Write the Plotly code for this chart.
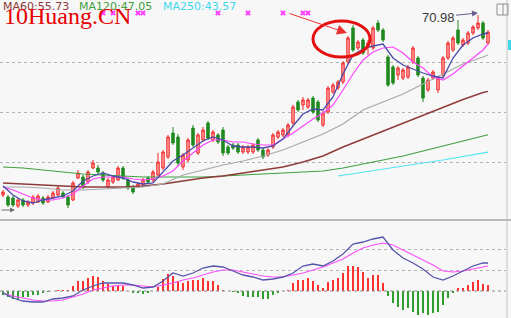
import plotly.graph_objects as go

# ---------------- data ----------------
opens = [35.0,34.6,34.4,32.8,34.0,33.0,33.4,33.6,34.4,33.6,
         34.4,35.0,35.4,34.6,34.0,38.4,38.6,37.6,40.4,40.4,
         39.4,36.6,37.6,38.0,40.4,38.0,36.6,36.6,37.0,38.4,
         38.0,39.0,40.4,42.6,47.4,46.6,40.6,42.0,48.4,43.4,
         46.0,49.4,46.0,47.0,48.0,44.6,45.0,45.0,43.6,43.6,
         43.6,46.0,44.0,43.0,44.6,46.6,47.0,47.0,49.4,53.6,
         53.0,52.6,54.4,53.6,49.0,51.6,55.6,56.4,57.6,61.6,
         68.4,64.4,66.0,64.6,64.4,69.4,68.0,62.6,60.6,59.0,
         58.4,58.6,61.6,62.4,58.4,56.0,58.4,56.0,59.0,62.4,
         64.0,68.0,65.0,65.4,67.4,68.4,69.4,65.4]
closes = [35.6,33.0,33.0,34.0,33.0,33.6,34.6,34.8,33.4,34.6,
          35.4,36.4,34.6,33.0,37.4,39.4,36.6,39.6,41.4,39.6,
          38.0,38.0,38.6,40.4,38.4,36.4,35.6,37.2,38.0,37.6,
          39.6,41.6,43.6,46.6,45.4,41.4,43.0,46.0,45.0,47.0,
          48.0,46.4,47.6,45.6,43.4,43.4,44.4,43.6,44.6,44.6,
          45.0,44.0,42.6,44.0,47.0,47.6,48.0,49.0,52.6,52.0,
          54.0,54.0,51.6,50.0,51.4,56.4,57.0,57.6,61.4,66.4,
          64.0,65.6,63.4,65.4,68.4,68.0,66.0,57.0,57.4,60.4,
          60.0,60.6,64.4,59.0,54.4,58.0,59.6,58.4,62.4,65.4,
          66.4,65.4,66.0,67.4,68.6,69.4,66.4,67.6]
highs = [36.0,35.0,34.8,34.4,34.4,34.0,35.0,35.2,34.8,35.0,
         35.8,37.0,35.8,35.0,37.8,40.0,39.0,40.0,42.0,41.0,
         39.8,38.4,39.0,40.8,40.8,38.4,37.0,37.6,38.4,38.8,
         40.0,43.4,44.0,47.0,48.6,47.2,43.4,46.4,49.0,47.4,
         48.6,49.8,48.0,47.4,48.6,45.0,45.4,45.4,45.0,45.0,
         45.4,46.4,44.4,44.4,47.4,48.0,48.4,49.4,53.0,54.0,
         54.6,54.4,54.8,54.0,51.8,56.8,57.4,58.0,61.8,66.8,
         69.0,66.0,66.4,66.0,68.8,70.0,68.4,63.0,61.0,60.8,
         60.4,61.0,64.8,62.8,58.8,58.4,60.0,58.8,62.8,65.8,
         66.8,70.0,66.4,67.8,69.0,70.98,69.8,68.0]
lows = [34.6,32.6,32.6,32.4,32.6,32.6,33.0,33.4,33.0,33.4,
        34.2,34.8,34.4,32.4,33.8,38.2,36.2,37.2,40.2,39.2,
        37.6,36.4,37.2,37.8,38.0,36.0,35.2,36.4,36.8,37.2,
        37.6,38.8,40.0,42.2,45.0,40.8,40.0,41.6,44.6,43.0,
        45.6,46.0,45.6,45.2,42.8,43.0,44.0,43.2,43.2,43.2,
        43.2,43.6,42.2,42.6,44.2,46.2,46.6,46.6,49.0,51.6,
        52.0,52.2,51.2,49.6,48.6,51.2,55.2,56.0,57.2,61.2,
        63.6,64.0,63.0,63.0,64.0,67.6,65.6,56.6,57.0,58.0,
        58.0,58.2,61.2,58.6,53.6,55.6,58.0,55.4,58.6,62.0,
        63.6,65.0,64.6,65.0,67.0,68.0,66.0,65.0]

# moving averages (read every 2nd / 4th bar)
ma_fine_idx = list(range(0, 97, 2)) + [97]
ma5 = [36.8,35.0,33.8,33.4,34.0,34.4,34.8,35.8,37.8,38.8,
       39.4,38.8,38.4,37.6,37.2,37.4,39.6,41.8,43.0,44.4,
       45.8,46.6,46.0,44.8,44.6,44.6,44.4,44.8,46.2,48.8,
       51.2,52.2,52.0,54.6,59.2,63.0,64.2,64.8,65.2,62.4,
       61.0,60.2,59.4,58.8,58.4,62.4,65.0,66.4,67.2,67.4]
ma10 = [36.6,36.0,35.2,34.4,34.0,34.0,34.4,35.2,36.8,38.2,
        38.6,38.6,38.6,38.2,38.0,38.2,38.8,39.8,41.8,43.4,
        45.0,46.0,46.0,45.6,45.6,45.2,45.0,45.0,46.2,47.4,
        48.8,50.2,51.4,53.0,56.0,59.2,62.0,63.6,64.4,64.6,
        63.4,61.6,60.4,58.6,58.0,59.2,60.8,62.4,64.0,65.2]
ma_coarse_idx = list(range(0, 97, 4)) + [97]
ma30 = [36.6,36.6,36.4,36.0,36.0,36.2,36.4,36.6,37.2,39.0,
        40.0,41.0,41.8,42.8,44.0,45.6,47.2,49.2,52.0,53.6,
        55.2,57.2,59.2,61.2,62.6,63.0]
ma60 = [37.4,37.2,37.0,36.8,36.6,36.6,36.6,36.8,37.2,37.8,
        38.4,38.8,39.4,40.0,40.6,41.6,42.8,44.6,46.2,47.8,
        49.4,51.0,52.6,54.1,55.5,55.73]
ma120 = [40.6,40.4,40.0,39.6,39.2,39.0,38.8,38.6,38.6,38.6,
         38.6,38.8,39.0,39.2,39.4,39.6,39.8,40.4,41.2,42.0,
         42.8,43.8,44.8,45.8,46.8,47.05]
ma250_idx = [67, 72, 76, 80, 84, 88, 92, 97]
ma250 = [38.8, 39.6, 40.2, 40.8, 41.4, 42.0, 42.7, 43.57]

# MACD
macd_hist = [-0.4,-0.6,-0.8,-0.8,-0.6,-0.6,-0.4,-0.4,-0.2,-0.1,
             0.0,0.1,0.1,0.1,0.5,1.0,1.0,1.3,1.5,1.4,
             1.0,0.7,0.5,0.6,0.5,0.0,-0.2,-0.2,-0.3,-0.2,
             0.0,0.4,1.2,1.7,1.5,1.0,0.8,1.0,1.1,1.1,
             1.3,1.0,1.0,0.6,0.1,0.0,-0.1,-0.2,-0.5,-0.6,
             -0.6,-0.6,-0.8,-0.8,-0.4,-0.2,0.0,0.1,0.8,1.1,
             1.1,1.3,1.0,0.6,0.3,0.9,1.1,1.3,1.8,2.5,
             2.5,2.4,1.9,1.3,1.6,1.6,0.8,-0.5,-1.2,-1.6,
             -1.9,-1.7,-2.1,-2.4,-2.2,-2.4,-2.2,-2.1,-1.4,-0.7,
             -0.2,0.3,0.3,0.6,0.9,1.1,0.7,0.6]
dif = [-0.2,-0.7,-1.0,-1.1,-1.1,-0.8,-0.7,-0.5,0.1,0.5,
       0.8,0.8,0.8,0.6,0.3,0.4,1.0,1.8,1.5,1.8,
       2.3,2.5,2.4,2.0,1.6,1.4,1.1,1.2,1.4,1.8,
       2.5,2.7,2.5,3.0,3.7,4.7,4.9,5.2,5.4,4.1,
       3.3,2.8,2.2,1.4,1.1,1.5,2.0,2.5,2.8,2.8]
dea = [-0.2,-0.5,-0.7,-0.9,-1.0,-1.0,-0.9,-0.6,-0.3,0.1,
       0.3,0.5,0.6,0.6,0.5,0.4,0.6,0.8,1.1,1.3,
       1.6,1.9,2.1,2.1,1.9,1.7,1.5,1.4,1.4,1.6,
       1.8,2.1,2.4,2.8,3.2,3.8,4.3,4.6,4.8,4.6,
       4.1,3.6,3.1,2.6,2.0,1.9,2.0,2.2,2.4,2.5]

signal_idx = [20, 22, 27, 28, 43, 49, 56, 60, 61]
signal_level = 71.4
legend_items = [("MA60:55.73", "#8E3B3B"), ("MA120:47.05", "#3E9E3E"), ("MA250:43.57", "#3FD8EA")]
high_label = "70.98"
watermark = "10Huang.CN"

# ---------------- figure ----------------
W, H = 511, 318
split = 1 - 220 / H
idx = list(range(len(opens)))

fig = go.Figure()
fig.add_trace(go.Candlestick(
    x=idx, open=opens, high=highs, low=lows, close=closes,
    increasing=dict(line=dict(color="#F02828", width=1), fillcolor="#FF9E9E"),
    decreasing=dict(line=dict(color="#1E8A1E", width=1), fillcolor="#1E8A1E"),
    whiskerwidth=0, xaxis="x", yaxis="y", hoverinfo="skip"))

def line(xs, ys, color, width, yaxis="y"):
    fig.add_trace(go.Scatter(x=xs, y=ys, mode="lines", yaxis=yaxis,
                             line=dict(color=color, width=width), hoverinfo="skip"))

line(ma_coarse_idx, ma120, "#3EA03E", 1.2)
line(ma250_idx, ma250, "#52E4F2", 1.2)
line(ma_coarse_idx, ma60, "#8E3B3B", 1.4)
line(ma_coarse_idx, ma30, "#A8A8A8", 1.2)
line(ma_fine_idx, ma10, "#FF45FF", 1.2)
line(ma_fine_idx, ma5, "#4A4AA8", 1.3)

fig.add_trace(go.Scatter(x=signal_idx, y=[signal_level] * len(signal_idx), mode="markers",
                         marker=dict(symbol="x", size=5, color="#FF40FF"), hoverinfo="skip"))

fig.add_trace(go.Bar(x=idx, y=macd_hist, yaxis="y2", width=0.38,
                     marker=dict(color=["#FF3030" if v >= 0 else "#2E9E2E" for v in macd_hist],
                                 line=dict(width=0)), hoverinfo="skip"))
line(ma_fine_idx, dea, "#FF50FF", 1.2, "y2")
line(ma_fine_idx, dif, "#5555AA", 1.3, "y2")

grid = dict(showgrid=True, griddash="dot", gridcolor="#B4B4B4", gridwidth=1,
            showticklabels=False, ticks="", zeroline=False, showline=False)
fig.update_layout(
    width=W, height=H, margin=dict(l=0, r=0, t=0, b=0),
    paper_bgcolor="#F7F7F7", plot_bgcolor="#F7F7F7", showlegend=False,
    bargap=0,
    xaxis=dict(range=[-0.6, 100.6], domain=[0, 506 / W], visible=False,
               rangeslider=dict(visible=False), anchor="y2"),
    yaxis=dict(domain=[split, 1], range=[30, 74], tickvals=[41.6, 51.6, 61.6], anchor="x", **grid),
    yaxis2=dict(domain=[0, split], range=[-2.7, 7.1], tickvals=[2.1, 4.2], anchor="x", **grid),
)

shapes = [
    dict(type="line", xref="paper", yref="paper", x0=0, x1=1, y0=split, y1=split,
         line=dict(color="#A6A6A6", width=1.5)),
    dict(type="line", xref="paper", yref="paper", x0=507 / W, x1=507 / W, y0=0, y1=1,
         line=dict(color="#C4C4C4", width=1)),
    dict(type="line", xref="paper", yref="y2", x0=0, x1=506 / W, y0=0, y1=0,
         line=dict(color="#8C8C8C", width=1.2, dash="dot")),
    dict(type="circle", xref="x", yref="y", x0=62.0, x1=73.4, y0=62.6, y1=69.8,
         line=dict(color="#E41010", width=3)),
    dict(type="rect", xref="paper", yref="paper", x0=497 / W, x1=508 / W,
         y0=1 - 15 / H, y1=1 - 4 / H, line=dict(color="#909090", width=1)),
    dict(type="line", xref="paper", yref="paper", x0=503 / W, x1=503 / W,
         y0=1 - 15 / H, y1=1 - 4 / H, line=dict(color="#909090", width=1)),
    dict(type="rect", xref="paper", yref="paper", x0=508 / W, x1=1,
         y0=1 - 50 / H, y1=1 - 40 / H, line=dict(width=0), fillcolor="#3FD8EA"),
]
fig.update_layout(shapes=shapes)

ann = []
xs_leg = [1, 77, 161]
for (txt, col), xp in zip(legend_items, xs_leg):
    ann.append(dict(text=txt, xref="paper", yref="paper", x=xp / W, y=1 - 7 / H,
                    xanchor="left", yanchor="middle", showarrow=False,
                    font=dict(family="DejaVu Sans", size=11, color=col)))
ann.append(dict(text=watermark, xref="paper", yref="paper", x=2 / W, y=1 - 16 / H,
                xanchor="left", yanchor="middle", showarrow=False,
                font=dict(family="Liberation Serif", size=24, color="#E80000")))
ann.append(dict(text=high_label, xref="x", yref="y", x=95, y=71.4, ax=-40, ay=4,
                showarrow=True, arrowhead=2, arrowsize=1.2, arrowwidth=1,
                arrowcolor="#6A5A8A",
                font=dict(family="Liberation Sans", size=13, color="#383838")))
ann.append(dict(text="", xref="x", yref="y", x=68.8, y=67.4, ax=-59, ay=-20,
                showarrow=True, arrowhead=2, arrowsize=2, arrowwidth=1, arrowcolor="#E83030"))
ann.append(dict(text="", xref="x", yref="y", x=2.4, y=32.0, ax=-15, ay=0,
                showarrow=True, arrowhead=2, arrowsize=1, arrowwidth=1, arrowcolor="#707070"))
fig.update_layout(annotations=ann)

fig.write_html("out.html")
